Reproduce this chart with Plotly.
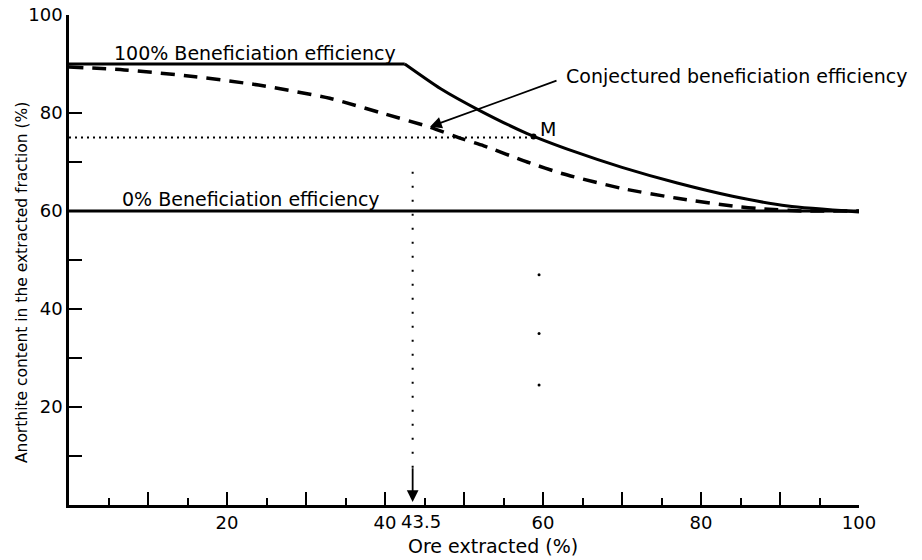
import plotly.graph_objects as go

# Data
full_flat_x = [0, 42.5]
full_flat_y = [90, 90]
full_curve_x = [42.5, 47.0, 52.0, 58.0, 64.0, 70.0, 77.0, 84.0, 91.0, 100]
full_curve_y = [90.0, 85.0, 80.5, 75.8, 72.1, 68.9, 65.7, 63.0, 61.0, 59.8]

zero_x = [0, 100]
zero_y = [60, 60]

conj_x = [0, 7, 16, 24, 33, 40, 45.5, 50, 52.5, 58, 62.5, 70, 77, 84, 88, 93, 100]
conj_y = [89.4, 88.8, 87.4, 85.7, 83.0, 79.8, 77.2, 74.6, 73.3, 70.0, 67.6, 64.6, 62.6, 61.0, 60.4, 60.0, 60.0]

m_x = [58.8]
m_y = [75.2]
guide_h_x = [0, 58.8]
guide_h_y = [75, 75]
guide_v_x = [43.5, 43.5]
guide_v_y = [68, 6]
stray_x = [59.5, 59.5, 59.5]
stray_y = [47, 35, 24.5]

x_tickvals = [10, 20, 30, 40, 50, 60, 70, 80, 90, 100]
x_ticktext = ["", "20", "", "40", "", "60", "", "80", "", "100"]
y_tickvals = [10, 20, 30, 40, 50, 60, 70, 80, 90, 100]
y_ticktext = ["", "20", "", "40", "", "60", "", "80", "", "100"]

FONT = "DejaVu Sans"
BLACK = "#000000"
LBL = 19

fig = go.Figure()
fig.add_trace(go.Scatter(x=full_flat_x, y=full_flat_y, mode="lines",
                         line=dict(color=BLACK, width=3), showlegend=False))
fig.add_trace(go.Scatter(x=full_curve_x, y=full_curve_y, mode="lines",
                         line=dict(color=BLACK, width=3, shape="spline", smoothing=0.6),
                         showlegend=False))
fig.add_trace(go.Scatter(x=zero_x, y=zero_y, mode="lines",
                         line=dict(color=BLACK, width=3), showlegend=False))
fig.add_trace(go.Scatter(x=conj_x, y=conj_y, mode="lines",
                         line=dict(color=BLACK, width=3.5, dash="14px,9px",
                                   shape="spline", smoothing=0.6),
                         showlegend=False))
fig.add_trace(go.Scatter(x=guide_h_x, y=guide_h_y, mode="lines",
                         line=dict(color=BLACK, width=2, dash="2px,4px"), showlegend=False))
fig.add_trace(go.Scatter(x=guide_v_x, y=guide_v_y, mode="lines",
                         line=dict(color=BLACK, width=2, dash="2px,12px"), showlegend=False))
fig.add_trace(go.Scatter(x=stray_x, y=stray_y, mode="markers",
                         marker=dict(color=BLACK, size=3), showlegend=False))
fig.add_trace(go.Scatter(x=m_x, y=m_y, mode="markers",
                         marker=dict(color=BLACK, size=6), showlegend=False))

annotations = [
    dict(x=5.4, y=92.2, text="100% Beneficiation efficiency", xanchor="left", yanchor="middle",
         showarrow=False, font=dict(size=LBL, family=FONT, color=BLACK)),
    dict(x=6.5, y=62.4, text="0% Beneficiation efficiency", xanchor="left", yanchor="middle",
         showarrow=False, font=dict(size=LBL, family=FONT, color=BLACK)),
    dict(x=62.6, y=87.5, text="Conjectured beneficiation efficiency", xanchor="left",
         yanchor="middle", showarrow=False, font=dict(size=LBL, family=FONT, color=BLACK)),
    dict(x=45.7, y=77.2, ax=61.9, ay=86.7, axref="x", ayref="y", text="",
         showarrow=True, arrowhead=2, arrowsize=1.3, arrowwidth=1.8, arrowcolor=BLACK),
    dict(x=59.4, y=76.8, text="M", xanchor="left", yanchor="middle", showarrow=False,
         font=dict(size=LBL, family=FONT, color=BLACK)),
    dict(x=43.5, y=0.6, ax=43.5, ay=7.8, axref="x", ayref="y", text="",
         showarrow=True, arrowhead=2, arrowsize=1.3, arrowwidth=1.8, arrowcolor=BLACK),
    dict(x=44.6, y=-0.033, xref="x", yref="paper", text="43.5", xanchor="center",
         yanchor="middle", showarrow=False, font=dict(size=18, family=FONT, color=BLACK)),
    # axis titles
    dict(x=0.537, y=-0.0837, xref="paper", yref="paper", text="Ore extracted (%)",
         xanchor="center", yanchor="middle", showarrow=False,
         font=dict(size=19, family=FONT, color=BLACK)),
    dict(x=-0.0595, y=0.455, xref="paper", yref="paper",
         text="Anorthite content in the extracted fraction (%)", textangle=-90,
         xanchor="center", yanchor="middle", showarrow=False,
         font=dict(size=15.5, family=FONT, color=BLACK)),
]

fig.update_layout(
    width=922, height=560,
    margin=dict(l=69, r=63, t=15, b=55, autoexpand=False),
    paper_bgcolor="white", plot_bgcolor="white",
    font=dict(family=FONT, size=18, color=BLACK),
    annotations=annotations,
    xaxis=dict(range=[0, 100], showgrid=False, zeroline=False, automargin=False,
               showline=True, linecolor=BLACK, linewidth=2.5,
               ticks="inside", ticklen=13, tickwidth=2, tickcolor=BLACK,
               tickvals=x_tickvals, ticktext=x_ticktext, tickfont=dict(size=18),
               minor=dict(ticks="inside", ticklen=7, tickwidth=1.5, tickcolor=BLACK, dtick=5)),
    yaxis=dict(range=[0, 100], showgrid=False, zeroline=False, automargin=False,
               showline=True, linecolor=BLACK, linewidth=2.5,
               ticks="inside", ticklen=13, tickwidth=2, tickcolor=BLACK,
               tickvals=y_tickvals, ticktext=y_ticktext, tickfont=dict(size=18)),
)

fig.write_html("out.html", config={"displayModeBar": False},
               post_script="document.body.style.margin='0';")
